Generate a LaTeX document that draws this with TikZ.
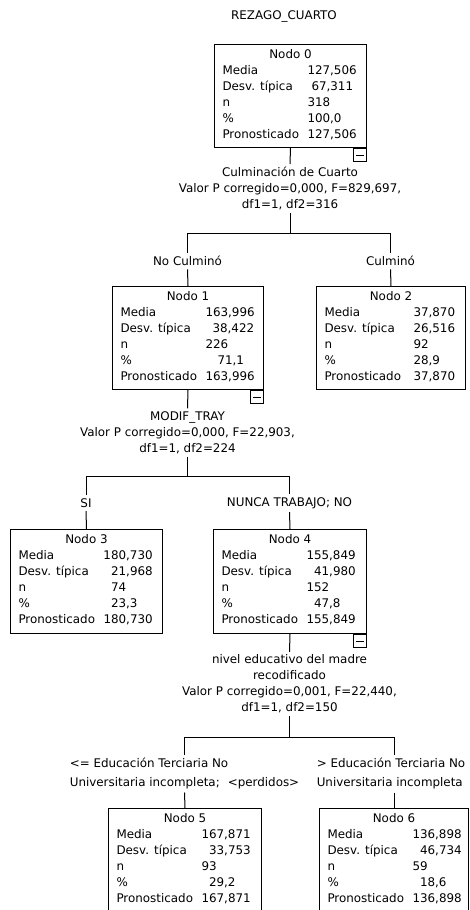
\documentclass[tikz,border=0pt]{standalone}
\usepackage{fontspec}
\setmainfont{DejaVu Sans}

% Contents of one tree node: centred title, then five label/value rows.
% #1 box width, #2 title, #3 label column width, #4-#8 the five values
\newcommand{\nodestats}[8]{%
  \parbox{\dimexpr#1-16pt\relax}{%
    \centering #2\par\raggedright
    \makebox[#3][l]{Media}#4\par
    \makebox[#3][l]{Desv. típica}#5\par
    \makebox[#3][l]{n}#6\par
    \makebox[#3][l]{\%}#7\par
    \makebox[#3][l]{Pronosticado}#8\par\vspace{3pt}}}

\begin{document}
\begin{tikzpicture}[x=1pt, y=-1pt, line width=1pt,
  every node/.style={font=\fontsize{11.9}{16}\selectfont},
  statbox/.style={draw, line width=1pt, inner sep=0pt, anchor=north west,
    minimum height=103pt},
  splittext/.style={align=center, inner sep=2.5pt,
    font=\fontsize{11.9}{16}\selectfont},
  branchtext/.style={inner sep=3pt},
  collapse/.style={draw, line width=1pt, minimum size=13pt, inner sep=0pt,
    anchor=north east,
    path picture={\draw[line width=1pt]
      ([xshift=2.5pt]path picture bounding box.west) --
      ([xshift=-2.5pt]path picture bounding box.east);}}]

\useasboundingbox (0,0) rectangle (470,910);
\fill[white] (0,0) rectangle (470,910);
\clip (0,0) rectangle (470,910);

% dependent variable
\node (title) at (284,16) {REZAGO\_CUARTO};

% root
\node[statbox, minimum width=152pt] (n0) at (214,44)
  {\nodestats{152pt}{Nodo 0}{85pt}{127,506}{\hspace{4pt}67,311}{318}{100,0}{127,506}};
\node[collapse] (n0x) at (n0.south east) {};
\node[splittext] (s0) at (290,188.5)
  {Culminación de Cuarto\\Valor P corregido=0,000, F=829,697,\\df1=1, df2=316};
\coordinate (j0) at (290,233);

% first split
\node[branchtext] (l1) at (187.5,261) {No Culminó};
\node[branchtext] (l2) at (390.5,261) {Culminó};
\node[statbox, minimum width=151pt] (n1) at (112,286)
  {\nodestats{151pt}{Nodo 1}{85pt}{163,996}{\hspace{7pt}38,422}{226}{\hspace{12pt}71,1}{163,996}};
\node[collapse] (n1x) at (n1.south east) {};
\node[statbox, minimum width=149pt] (n2) at (316,286)
  {\nodestats{149pt}{Nodo 2}{89pt}{37,870}{26,516}{92}{28,9}{37,870}};

\node[splittext] (s1) at (187.5,432.5)
  {MODIF\_TRAY\\Valor P corregido=0,000, F=22,903,\\df1=1, df2=224};
\coordinate (j1) at (187.5,476);

% second split
\node[branchtext] (l3) at (86,503) {SI};
\node[branchtext] (l4) at (289.5,503) {NUNCA TRABAJO; NO};
\node[statbox, minimum width=152pt, minimum height=104pt] (n3) at (10,529)
  {\nodestats{152pt}{Nodo 3}{85pt}{180,730}{\phantom{0}21,968}{\phantom{0}74}{\phantom{0}23,3}{180,730}};
\node[statbox, minimum width=153pt, minimum height=104pt] (n4) at (213,529)
  {\nodestats{153pt}{Nodo 4}{85pt}{155,849}{\phantom{0}41,980}{152}{\phantom{0}47,8}{155,849}};
\node[collapse] (n4x) at (n4.south east) {};

\node[splittext] (s4) at (289.5,684)
  {nivel educativo del madre\\recodificado\\Valor P corregido=0,001, F=22,440,\\df1=1, df2=150};
\coordinate (j4) at (289.5,737);

% third split
\node[branchtext, align=left] (l5) at (184.5,773.5)
  {<= Educación Terciaria No\\[3pt]Universitaria incompleta;\hspace{8pt}<perdidos>};
\node[branchtext, align=left] (l6) at (391,773.5)
  {> Educación Terciaria No\\[3pt]Universitaria incompleta};
\node[statbox, minimum width=153pt, minimum height=104pt] (n5) at (108,808)
  {\nodestats{153pt}{Nodo 5}{85pt}{167,871}{\phantom{0}33,753}{93}{\phantom{0}29,2}{167,871}};
\node[statbox, minimum width=149pt, minimum height=104pt] (n6) at (319,808)
  {\nodestats{149pt}{Nodo 6}{85pt}{136,898}{\phantom{0}46,734}{59}{\phantom{0}18,6}{136,898}};

% connectors
\draw (n0.south) -- (s0.north);
\draw (s0.south) -- (j0);
\draw (l1.north) -- (l1.north |- j0) -- (l2.north |- j0) -- (l2.north);
\draw (l1.south) -- (n1.north);
\draw (l2.south) -- (n2.north);

\draw (n1.south) -- (s1.north);
\draw (s1.south) -- (j1);
\draw (l3.north) -- (l3.north |- j1) -- (l4.north |- j1) -- (l4.north);
\draw (l3.south) -- (n3.north);
\draw (l4.south) -- (n4.north);

\draw (n4.south) -- (s4.north);
\draw (s4.south) -- (j4);
\draw (l5.north) -- (l5.north |- j4) -- (n6.north |- j4) -- (n6.north |- l6.north);
\draw (l5.south) -- (n5.north);
\draw (n6.north |- l6.south) -- (n6.north);
\end{tikzpicture}
\end{document}
